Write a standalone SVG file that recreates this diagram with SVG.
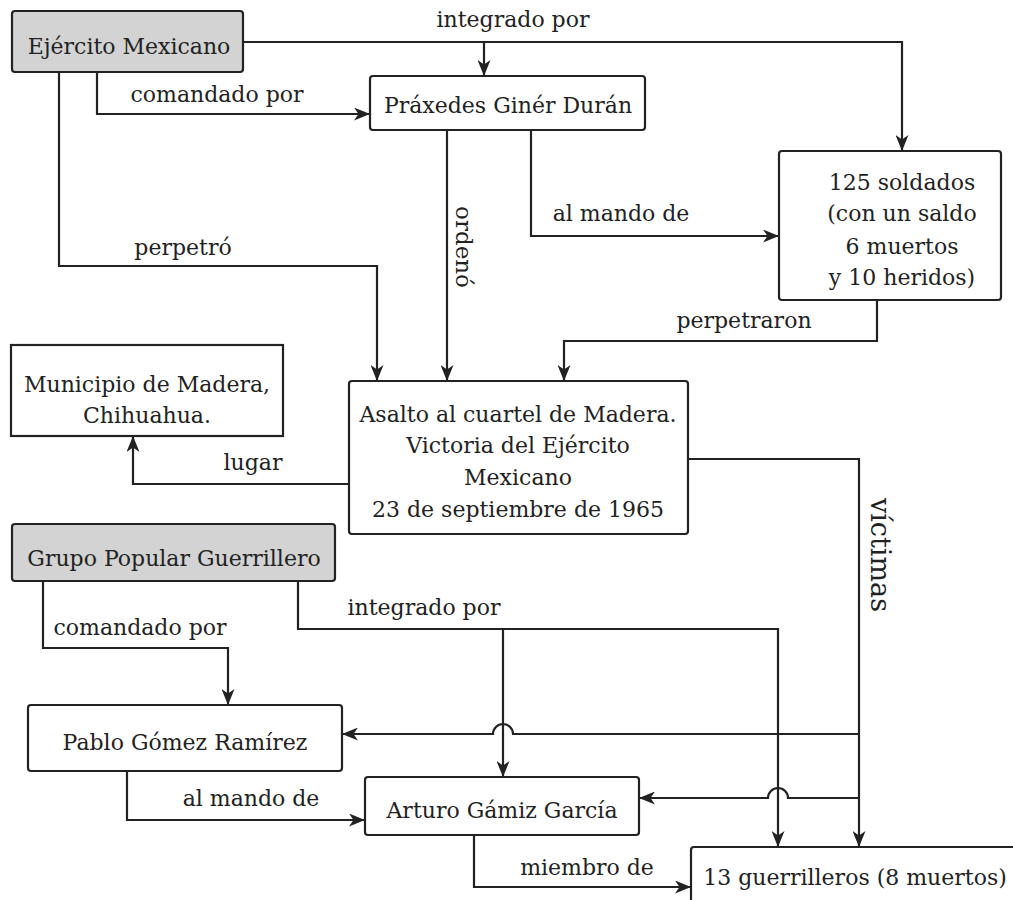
<svg xmlns="http://www.w3.org/2000/svg" width="1013" height="900" viewBox="0 0 1013 900">
<style>
.box{fill:#fff;stroke:#222;stroke-width:2.2}
.gray{fill:#d3d3d3}
.t{font-family:"DejaVu Serif","Liberation Serif",serif;font-size:22px;fill:#222;text-anchor:middle}
.c{fill:none;stroke:#222;stroke-width:2.2}
.a{marker-end:url(#arr)}
</style>
<defs>
<marker id="arr" viewBox="0 0 16 13" refX="15" refY="6.5" markerWidth="16" markerHeight="13" markerUnits="userSpaceOnUse" orient="auto">
<path d="M0,0 L16,6.5 L0,13 L4.5,6.5 z" fill="#222"/>
</marker>
</defs>
<rect width="1013" height="900" fill="#fff"/>
<g id="connectors">
<path class="c a" d="M243,42 H902 V150"/>
<path class="c a" d="M484,42 V75"/>
<text class="t" x="513" y="27">integrado por</text>
<path class="c a" d="M97,72 V114 H369"/>
<text class="t" x="217" y="102">comandado por</text>
<path class="c a" d="M59,72 V266 H377 V380"/>
<text class="t" x="183" y="255">perpetró</text>
<path class="c a" d="M447,130 V380"/>
<text class="t" style="font-size:23px" transform="translate(456,247) rotate(90)">ordenó</text>
<path class="c a" d="M531,130 V236 H778"/>
<text class="t" x="621" y="221">al mando de</text>
<path class="c a" d="M877,300 V341 H564 V380"/>
<text class="t" x="744" y="328">perpetraron</text>
<path class="c a" d="M349,484 H133 V437"/>
<text class="t" x="253" y="470">lugar</text>
<path class="c a" d="M688,459 H859 V846"/>
<text class="t" style="font-size:27px" transform="translate(871,555) rotate(90)">víctimas</text>
<path class="c a" d="M43,581 V648 H228 V704"/>
<text class="t" x="140" y="635">comandado por</text>
<path class="c a" d="M298,581 V629 H778 V846"/>
<path class="c a" d="M503,629 V776"/>
<text class="t" x="424" y="615">integrado por</text>
<path class="c a" d="M859,734 H513 A10,10 0 0 0 493,734 H343"/>
<path class="c a" d="M859,798 H788 A10,10 0 0 0 768,798 H640"/>
<path class="c a" d="M127,771 V820 H364"/>
<text class="t" x="251" y="806">al mando de</text>
<path class="c a" d="M474,835 V887 H690"/>
<text class="t" x="587" y="875">miembro de</text>
</g>
<g id="ejercito">
<rect class="box gray" x="12" y="11" width="231" height="61" rx="3"/>
<text class="t" x="129" y="54">Ejército Mexicano</text>
</g>
<g id="praxedes">
<rect class="box" x="370" y="76" width="275" height="54" rx="3"/>
<text class="t" x="508" y="113">Práxedes Ginér Durán</text>
</g>
<g id="soldados">
<rect class="box" x="779" y="151" width="222" height="149" rx="3"/>
<text class="t" x="902" y="190">125 soldados</text>
<text class="t" x="902" y="221">(con un saldo</text>
<text class="t" x="902" y="254">6 muertos</text>
<text class="t" x="902" y="285">y 10 heridos)</text>
</g>
<g id="municipio">
<rect class="box" x="11" y="345" width="272" height="91"/>
<text class="t" x="147" y="392">Municipio de Madera,</text>
<text class="t" x="147" y="423">Chihuahua.</text>
</g>
<g id="asalto">
<rect class="box" x="349" y="381" width="339" height="153" rx="3"/>
<text class="t" x="518" y="422">Asalto al cuartel de Madera.</text>
<text class="t" x="518" y="453">Victoria del Ejército</text>
<text class="t" x="518" y="485">Mexicano</text>
<text class="t" x="518" y="517">23 de septiembre de 1965</text>
</g>
<g id="grupo">
<rect class="box gray" x="12" y="524" width="323" height="57" rx="3"/>
<text class="t" x="174" y="566">Grupo Popular Guerrillero</text>
</g>
<g id="pablo">
<rect class="box" x="28" y="705" width="314" height="66" rx="3"/>
<text class="t" x="185" y="750">Pablo Gómez Ramírez</text>
</g>
<g id="arturo">
<rect class="box" x="365" y="777" width="274" height="58" rx="3"/>
<text class="t" x="502" y="818">Arturo Gámiz García</text>
</g>
<g id="guerrilleros">
<rect class="box" x="691" y="847" width="330" height="70" rx="3"/>
<text class="t" x="855" y="885">13 guerrilleros (8 muertos)</text>
</g>
</svg>
